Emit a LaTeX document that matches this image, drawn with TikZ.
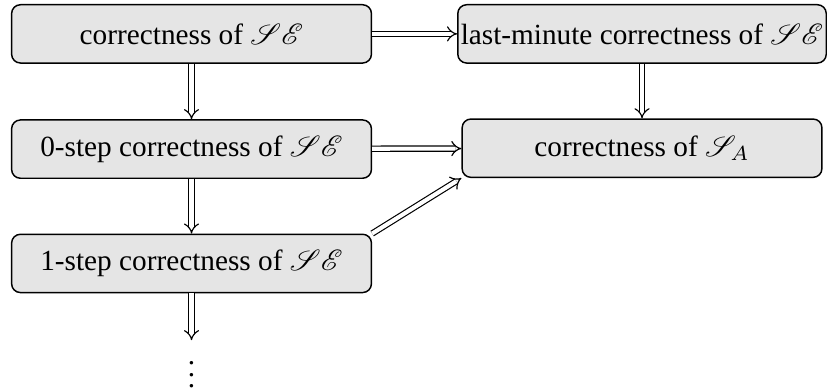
\documentclass[tikz,border=0pt]{standalone}
\usepackage{fontspec}
\setmainfont{Liberation Serif}
\usepackage{mathrsfs}
\usepackage{tikz}
\usetikzlibrary{matrix,arrows.meta,calc}

\begin{document}
\begin{tikzpicture}[implication/.style={draw, double, double distance=1.4pt, -{Implies[scale=1.4]}}]
  \matrix (m) [matrix of nodes, inner sep=0pt, row sep=0.655cm, column sep=1.02cm,
    nodes={draw, line width=0.5pt, fill=gray!20, rounded corners=3pt,
      minimum width=4.32cm, minimum height=0.70cm, inner ysep=2pt, inner xsep=1pt}]
  {
    correctness of $\mathscr{S}\mathscr{E}$ & last-minute correctness of $\mathscr{S}\mathscr{E}$ \\
    0-step correctness of $\mathscr{S}\mathscr{E}$ & correctness of $\mathscr{S}_A$ \\
    1-step correctness of $\mathscr{S}\mathscr{E}$ & \\[-0.083cm]
    |[draw=none, fill=none, minimum height=0pt, minimum width=0pt, inner sep=1pt]| $\vdots$ & \\
  };
  \useasboundingbox ($(m-1-1.north west)+(-0.131cm,0.048cm)$) rectangle ++(9.858cm,-4.613cm);
  \path[every edge/.style={implication}]
  (m-1-1) edge (m-1-2)
          edge (m-2-1)
  (m-1-2) edge (m-2-2)
  (m-2-1) edge (m-2-2)
          edge (m-3-1)
  (m-3-1) edge (m-4-1)
  (m-3-1.north east) edge (m-2-2.south west)
  ;
\end{tikzpicture}
\end{document}
